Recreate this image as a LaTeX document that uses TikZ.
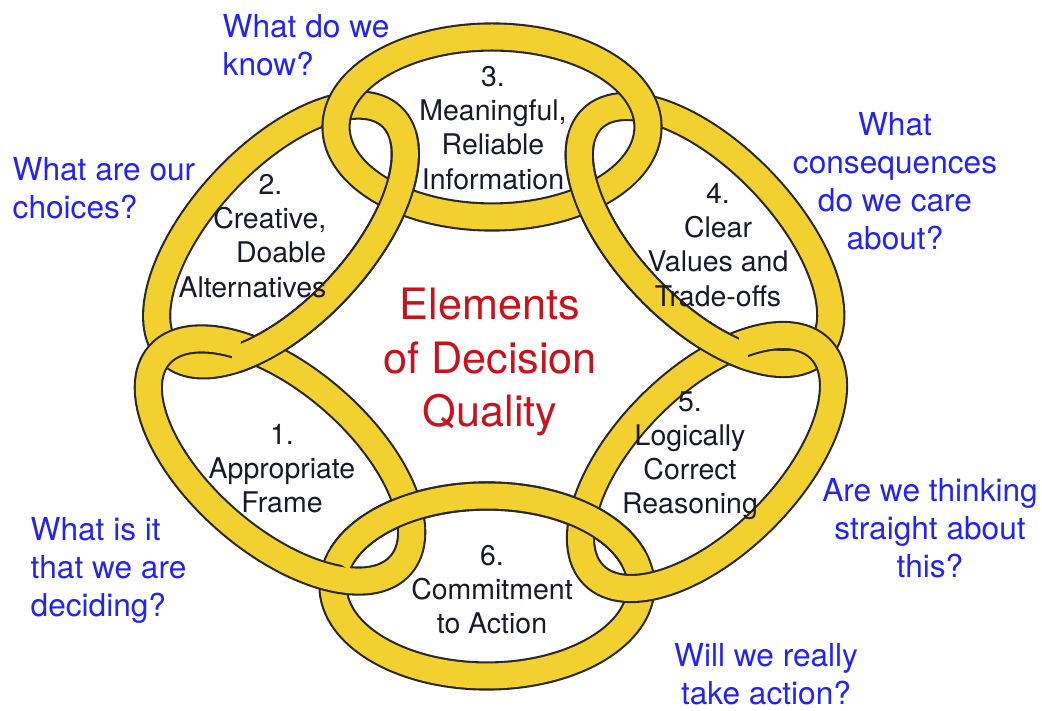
\documentclass[tikz,border=0pt]{standalone}
\usepackage{fontspec}
\setmainfont{TeX Gyre Heros}
\definecolor{ringgold}{RGB}{242,208,48}
\definecolor{ringline}{RGB}{40,40,40}
\definecolor{askblue}{RGB}{35,35,245}
\definecolor{titlered}{RGB}{200,18,30}
\definecolor{labelink}{RGB}{25,25,45}

\begin{document}
\begin{tikzpicture}[
        ring/.style={draw=ringline, line width=0.6pt, double=ringgold, double distance=0.25cm},
        ringedge/.style={draw=ringline, line width=0.25cm+1.2pt},
        ringbody/.style={draw=ringgold, line width=0.25cm},
        element/.style={text=labelink, align=center, inner sep=0pt, font=\fontsize{8.1}{9.7}\selectfont},
        question/.style={text=askblue, inner sep=0pt, font=\fontsize{9}{10.8}\selectfont},
        heading/.style={text=titlered, align=center, inner sep=0pt, font=\fontsize{12.3}{15.1}\selectfont}]
        \useasboundingbox (0,0) rectangle (10.42,7.10);

        % ring centres
        \coordinate (mid) at (4.90,3.48);
        \coordinate (c1) at (2.80,2.50);
        \coordinate (c2) at (2.81,4.75);
        \coordinate (c3) at (4.92,5.83);
        \coordinate (c4) at (7.05,4.75);
        \coordinate (c5) at (7.07,2.48);
        \coordinate (c6) at (4.87,1.24);

        % even rings (under at the outer crossings)
        \draw[ring, rotate around={47:(c2)}] (c2) ellipse [x radius=1.62, y radius=0.78];
        \draw[ring, rotate around={-46:(c4)}] (c4) ellipse [x radius=1.62, y radius=0.78];
        \draw[ring] (c6) ellipse [x radius=1.54, y radius=0.90];

        % odd rings
        \draw[ring, rotate around={-41:(c1)}] (c1) ellipse [x radius=1.60, y radius=0.80];
        \draw[ring] (c3) ellipse [x radius=1.56, y radius=0.90];
        \draw[ring, rotate around={45:(c5)}] (c5) ellipse [x radius=1.60, y radius=0.80];

        % even rings again, over at the inner crossings
        \begin{scope}
            \clip (mid) ellipse [x radius=2.5, y radius=2.4];
            \draw[ringedge, rotate around={47:(c2)}] (c2) ellipse [x radius=1.62, y radius=0.78];
            \draw[ringedge, rotate around={-46:(c4)}] (c4) ellipse [x radius=1.62, y radius=0.78];
            \draw[ringedge] (c6) ellipse [x radius=1.54, y radius=0.90];
        \end{scope}
        \begin{scope}
            \clip (mid) ellipse [x radius=2.58, y radius=2.48];
            \draw[ringbody, rotate around={47:(c2)}] (c2) ellipse [x radius=1.62, y radius=0.78];
            \draw[ringbody, rotate around={-46:(c4)}] (c4) ellipse [x radius=1.62, y radius=0.78];
            \draw[ringbody] (c6) ellipse [x radius=1.54, y radius=0.90];
        \end{scope}

        % elements
        \node (e1) at (2.82,2.41) [element] {1.\\Appropriate\\Frame};
        \node (e2) at (3.27,4.74) [element, anchor=east, align=right] {2.\kern0.44cm\\Creative,\\Doable\\Alternatives};
        \node (e3) at (4.93,5.82) [element] {3.\\Meaningful,\\Reliable\\Information};
        \node (e4) at (7.18,4.65) [element] {4.\\Clear\\Values and\\Trade-offs};
        \node (e5) at (6.90,2.54) [element] {5.\\Logically\\Correct\\Reasoning};
        \node (e6) at (4.92,1.20) [element] {6.\\Commitment\\to Action};
        \node (title) at (mid) [heading] {Elements\\of Decision\\Quality};

        % questions
        \node (q1) at (0.30,1.40) [question, anchor=west, align=left] {What is it\\that we are\\deciding?};
        \node (q2) at (0.12,5.22) [question, anchor=west, align=left] {What are our\\choices?};
        \node (q3) at (2.22,6.65) [question, anchor=west, align=left] {What do we\\know?};
        \node (q4) at (8.95,5.29) [question, align=center] {What\\consequences\\do we care\\about?};
        \node (q5) at (9.30,1.82) [question, align=center] {Are we thinking\\straight about\\this?};
        \node (q6) at (7.66,0.36) [question, align=center] {Will we really\\take action?};
\end{tikzpicture}
\end{document}
